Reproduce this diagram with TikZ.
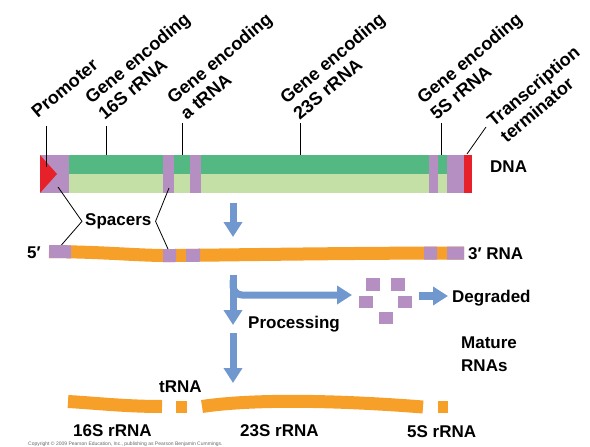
\documentclass[tikz,border=0pt]{standalone}
\usepackage{fontspec}
\setmainfont{Liberation Sans}
\usetikzlibrary{arrows.meta}
\definecolor{dkgreen}{RGB}{84,184,130}
\definecolor{ltgreen}{RGB}{196,224,166}
\definecolor{purp}{RGB}{182,143,194}
\definecolor{dnared}{RGB}{230,33,42}
\definecolor{rnaorange}{RGB}{246,160,42}
\definecolor{arrowblue}{RGB}{112,152,207}
\begin{document}
\begin{tikzpicture}[x=1pt,y=-1pt,
  lab/.style={font=\fontsize{17}{23}\selectfont\bfseries, inner sep=0pt, anchor=base west, align=left},
  rotlab/.style={font=\fontsize{18}{20.5}\selectfont\bfseries, inner sep=0pt, rotate=40, anchor=south west, align=left},
  leader/.style={draw=black, line width=0.8pt},
  blockarrow/.style={draw=arrowblue, line width=7pt, -{Triangle[width=18pt,length=15pt]}},
  rnaband/.style={line width=13pt},
  frag/.style={fill=purp}]
\useasboundingbox (0,0) rectangle (590,447);

% ---------- DNA bar ----------
\fill[dkgreen] (40,155) rectangle (472,174);
\fill[ltgreen] (40,174) rectangle (472,193);
\foreach \a/\b in {40/69, 163/174, 190/201, 429/438, 447/464}
  \fill[purp] (\a,155) rectangle (\b,193);
\fill[dnared] (464,155) rectangle (472,193);
\fill[dnared] (40,155) -- (57,174) -- (40,193) -- cycle;
\node[lab, anchor=base west] (dna) at (490,172) {DNA};

% ---------- rotated labels ----------
\node[rotlab] (prom) at (38,119) {Promoter};
\node[rotlab] (g16) at (105,121) {Gene encoding\\16S rRNA};
\node[rotlab] (gt) at (187,121) {Gene encoding\\a tRNA};
\node[rotlab] (g23) at (300,121) {Gene encoding\\23S rRNA};
\node[rotlab] (g5) at (437,121) {Gene encoding\\5S rRNA};
\node[rotlab] (term) at (507,144) {Transcription\\terminator};

\coordinate (promA) at (46,126);  \coordinate (promB) at (46,167);
\coordinate (g16A) at (106,126);  \coordinate (g16B) at (106,155);
\coordinate (gtA) at (182,123);   \coordinate (gtB) at (182,155);
\coordinate (g23A) at (300,123);  \coordinate (g23B) at (300,155);
\coordinate (g5A) at (441,123);   \coordinate (g5B) at (441,155);
\coordinate (termA) at (486,127); \coordinate (termB) at (467,154);
\foreach \p in {prom, g16, gt, g23, g5, term}
  \draw[leader] (\p A) -- (\p B);

% ---------- spacers ----------
\node[lab] (sp) at (85,225.5) {Spacers};
\coordinate (spL1) at (58,187); \coordinate (spL2) at (58,249);
\coordinate (spR1) at (169,188); \coordinate (spR2) at (168,249);
\draw[leader] (spL1) -- ([xshift=-3pt]sp.west) -- (spL2);
\draw[leader] (spR1) -- ([xshift=4pt]sp.east) -- (spR2);

% ---------- arrow DNA -> RNA ----------
\coordinate (a1s) at (233,203); \coordinate (a1e) at (233,237);
\draw[blockarrow] (a1s) -- (a1e);

% ---------- primary transcript ----------
\def\rnapath{(49,251.5) .. controls (110,252) and (140,256) .. (175,255.5) .. controls (230,255) and (350,253) .. (464,253)}
\draw[rnaorange, rnaband] \rnapath;
\foreach \a/\b in {49/71, 163/176, 186/200, 424/437, 447/464}{
  \begin{scope}
    \clip (\a,230) rectangle (\b,275);
    \draw[purp, rnaband] \rnapath;
  \end{scope}
}
\node[lab] (five) at (27,258) {5′};
\node[lab] (three) at (468,259) {3′ RNA};

% ---------- processing ----------
\coordinate (a2s) at (233,275); \coordinate (a2e) at (233,325);
\draw[blockarrow] (a2s) -- (a2e);
\coordinate (brs) at (233,280); \coordinate (bre) at (352,295);
\draw[blockarrow, rounded corners=9pt] (brs) |- (bre);
\node[lab] (proc) at (248,328) {Processing};

\fill[frag] (366,278) rectangle (380,291);
\fill[frag] (391,278) rectangle (405,291);
\fill[frag] (359,296) rectangle (373,308);
\fill[frag] (398,296) rectangle (412,308);
\fill[frag] (379,312) rectangle (393,324);

\coordinate (a3s) at (419,296); \coordinate (a3e) at (448,296);
\draw[blockarrow, line width=8pt] (a3s) -- (a3e);
\node[lab] (deg) at (452,302) {Degraded};

\coordinate (a4s) at (233,333); \coordinate (a4e) at (233,383);
\draw[blockarrow] (a4s) -- (a4e);

% ---------- mature RNAs ----------
\draw[rnaorange, rnaband] (68,401.5) .. controls (95,403) and (125,406.5) .. (162,406.5);
\fill[rnaorange] (176,401) rectangle (187,413);
\draw[rnaorange, rnaband] (202,406.5) .. controls (245,400) and (320,399) .. (423,407);
\fill[rnaorange] (438,401) rectangle (448,413);

\node[lab] (trna) at (159,392) {tRNA};
\node[lab] (r16) at (73,436) {16S rRNA};
\node[lab] (r23) at (240,436) {23S rRNA};
\node[lab] (r5) at (407,437) {5S rRNA};
\node[lab] (mat) at (461,371) {Mature\\RNAs};

\node[font=\fontsize{5}{6}\selectfont, text=black!60, inner sep=0pt, anchor=base west] (copy) at (28,445)
  {Copyright © 2009 Pearson Education, Inc., publishing as Pearson Benjamin Cummings.};
\end{tikzpicture}
\end{document}
